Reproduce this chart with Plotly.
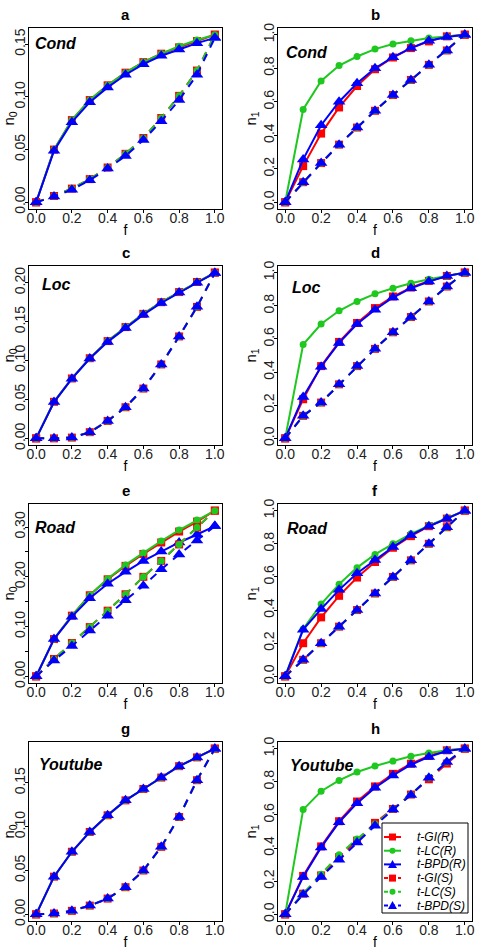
import plotly.graph_objects as go

# ---------------- data ----------------
F = [0.0, 0.1, 0.2, 0.3, 0.4, 0.5, 0.6, 0.7, 0.8, 0.9, 1.0]
SERIES_NAMES = ["t-GI(R)", "t-LC(R)", "t-BPD(R)", "t-GI(S)", "t-LC(S)", "t-BPD(S)"]
PANEL_LETTERS = ["a", "b", "c", "d", "e", "f", "g", "h"]
DATASETS = ["Cond", "Cond", "Loc", "Loc", "Road", "Road", "Youtube", "Youtube"]
Y_TITLES = ["n<sub>0</sub>", "n<sub>1</sub>"] * 4
X_TITLE = "f"

# a: Cond, n0
a_gi_r = [0, 0.050, 0.078, 0.097, 0.111, 0.123, 0.133, 0.141, 0.147, 0.153, 0.159]
a_lc_r = [0, 0.050, 0.078, 0.097, 0.111, 0.123, 0.133, 0.141, 0.148, 0.154, 0.159]
a_bpd_r = [0, 0.049, 0.076, 0.095, 0.109, 0.121, 0.131, 0.139, 0.145, 0.151, 0.156]
a_gi_s = [0, 0.006, 0.013, 0.022, 0.033, 0.046, 0.061, 0.080, 0.101, 0.125, 0.159]
a_lc_s = [0, 0.006, 0.013, 0.022, 0.033, 0.046, 0.061, 0.080, 0.101, 0.125, 0.159]
a_bpd_s = [0, 0.0055, 0.012, 0.021, 0.032, 0.044, 0.059, 0.077, 0.097, 0.121, 0.156]

# b: Cond, n1
b_gi_r = [0, 0.216, 0.410, 0.566, 0.694, 0.794, 0.864, 0.920, 0.960, 0.990, 1.0]
b_lc_r = [0, 0.554, 0.724, 0.816, 0.870, 0.914, 0.944, 0.964, 0.980, 0.990, 1.0]
b_bpd_r = [0, 0.256, 0.460, 0.600, 0.710, 0.800, 0.866, 0.920, 0.964, 0.986, 1.0]
b_gi_s = [0, 0.120, 0.234, 0.344, 0.446, 0.546, 0.640, 0.730, 0.820, 0.906, 1.0]
b_lc_s = [0, 0.120, 0.234, 0.344, 0.446, 0.546, 0.640, 0.730, 0.820, 0.906, 1.0]
b_bpd_s = [0, 0.120, 0.234, 0.344, 0.446, 0.546, 0.640, 0.730, 0.820, 0.906, 1.0]

# c: Loc, n0
c_gi_r = [0, 0.047, 0.077, 0.103, 0.125, 0.143, 0.160, 0.175, 0.188, 0.201, 0.213]
c_lc_r = [0, 0.047, 0.077, 0.103, 0.125, 0.143, 0.160, 0.175, 0.188, 0.201, 0.213]
c_bpd_r = [0, 0.0466, 0.0767, 0.1026, 0.124, 0.142, 0.159, 0.174, 0.1875, 0.200, 0.2125]
c_gi_s = [0, 0.000, 0.001, 0.008, 0.0224, 0.040, 0.064, 0.095, 0.131, 0.169, 0.213]
c_lc_s = [0, 0.000, 0.001, 0.008, 0.0224, 0.040, 0.064, 0.095, 0.131, 0.169, 0.213]
c_bpd_s = [0, 0.000, 0.001, 0.0078, 0.0224, 0.040, 0.064, 0.095, 0.131, 0.169, 0.2125]

# d: Loc, n1
d_gi_r = [0, 0.236, 0.436, 0.582, 0.696, 0.786, 0.856, 0.910, 0.950, 0.980, 1.0]
d_lc_r = [0, 0.566, 0.690, 0.770, 0.826, 0.872, 0.906, 0.936, 0.960, 0.980, 1.0]
d_bpd_r = [0, 0.250, 0.432, 0.576, 0.690, 0.776, 0.850, 0.906, 0.946, 0.980, 1.0]
d_gi_s = [0, 0.136, 0.216, 0.326, 0.436, 0.540, 0.640, 0.732, 0.826, 0.916, 1.0]
d_lc_s = [0, 0.136, 0.216, 0.326, 0.436, 0.540, 0.640, 0.732, 0.826, 0.916, 1.0]
d_bpd_s = [0, 0.136, 0.216, 0.326, 0.436, 0.540, 0.640, 0.732, 0.826, 0.916, 1.0]

# e: Road, n0
e_gi_r = [0, 0.075, 0.122, 0.163, 0.195, 0.222, 0.246, 0.269, 0.291, 0.311, 0.333]
e_lc_r = [0, 0.075, 0.122, 0.163, 0.196, 0.224, 0.248, 0.272, 0.294, 0.314, 0.333]
e_bpd_r = [0, 0.075, 0.120, 0.157, 0.186, 0.210, 0.232, 0.251, 0.269, 0.285, 0.302]
e_gi_s = [0, 0.035, 0.067, 0.099, 0.132, 0.165, 0.200, 0.232, 0.265, 0.299, 0.333]
e_lc_s = [0, 0.035, 0.067, 0.099, 0.132, 0.165, 0.200, 0.232, 0.265, 0.299, 0.333]
e_bpd_s = [0, 0.032, 0.061, 0.092, 0.122, 0.153, 0.182, 0.215, 0.245, 0.273, 0.302]

# f: Road, n1
f_gi_r = [0, 0.200, 0.356, 0.486, 0.596, 0.690, 0.776, 0.846, 0.906, 0.952, 1.0]
f_lc_r = [0, 0.286, 0.436, 0.556, 0.656, 0.736, 0.800, 0.860, 0.910, 0.956, 1.0]
f_bpd_r = [0, 0.282, 0.406, 0.522, 0.622, 0.702, 0.780, 0.852, 0.906, 0.952, 1.0]
f_gi_s = [0, 0.100, 0.200, 0.300, 0.400, 0.500, 0.600, 0.700, 0.800, 0.900, 1.0]
f_lc_s = [0, 0.100, 0.200, 0.300, 0.400, 0.500, 0.600, 0.700, 0.800, 0.900, 1.0]
f_bpd_s = [0, 0.100, 0.200, 0.300, 0.400, 0.500, 0.600, 0.700, 0.800, 0.900, 1.0]

# g: Youtube, n0
g_gi_r = [0, 0.043, 0.0714, 0.094, 0.113, 0.130, 0.143, 0.156, 0.169, 0.179, 0.189]
g_lc_r = [0, 0.043, 0.0714, 0.094, 0.113, 0.130, 0.143, 0.156, 0.169, 0.179, 0.189]
g_bpd_r = [0, 0.043, 0.0714, 0.094, 0.113, 0.130, 0.143, 0.156, 0.169, 0.179, 0.189]
g_gi_s = [0, 0.001, 0.004, 0.010, 0.018, 0.031, 0.050, 0.077, 0.111, 0.153, 0.189]
g_lc_s = [0, 0.001, 0.004, 0.010, 0.018, 0.031, 0.050, 0.077, 0.111, 0.153, 0.189]
g_bpd_s = [0, 0.001, 0.004, 0.010, 0.018, 0.031, 0.050, 0.077, 0.111, 0.153, 0.189]

# h: Youtube, n1
h_gi_r = [0, 0.232, 0.410, 0.562, 0.681, 0.772, 0.848, 0.909, 0.956, 0.990, 1.0]
h_lc_r = [0, 0.632, 0.743, 0.808, 0.859, 0.895, 0.925, 0.954, 0.974, 0.990, 1.0]
h_bpd_r = [0, 0.226, 0.404, 0.556, 0.671, 0.764, 0.838, 0.903, 0.950, 0.986, 1.0]
h_gi_s = [0, 0.125, 0.235, 0.345, 0.445, 0.552, 0.636, 0.723, 0.815, 0.910, 1.0]
h_lc_s = [0, 0.125, 0.242, 0.360, 0.455, 0.545, 0.636, 0.723, 0.824, 0.919, 1.0]
h_bpd_s = [0, 0.120, 0.226, 0.330, 0.434, 0.535, 0.632, 0.720, 0.824, 0.919, 1.0]

PANELS = [
    [a_gi_r, a_lc_r, a_bpd_r, a_gi_s, a_lc_s, a_bpd_s],
    [b_gi_r, b_lc_r, b_bpd_r, b_gi_s, b_lc_s, b_bpd_s],
    [c_gi_r, c_lc_r, c_bpd_r, c_gi_s, c_lc_s, c_bpd_s],
    [d_gi_r, d_lc_r, d_bpd_r, d_gi_s, d_lc_s, d_bpd_s],
    [e_gi_r, e_lc_r, e_bpd_r, e_gi_s, e_lc_s, e_bpd_s],
    [f_gi_r, f_lc_r, f_bpd_r, f_gi_s, f_lc_s, f_bpd_s],
    [g_gi_r, g_lc_r, g_bpd_r, g_gi_s, g_lc_s, g_bpd_s],
    [h_gi_r, h_lc_r, h_bpd_r, h_gi_s, h_lc_s, h_bpd_s],
]

X_TICKS = [0.0, 0.2, 0.4, 0.6, 0.8, 1.0]
X_TICK_LABELS = ["0.0", "0.2", "0.4", "0.6", "0.8", "1.0"]
N1_TICKS = [0.0, 0.2, 0.4, 0.6, 0.8, 1.0]
N1_TICK_LABELS = ["0.0", "0.2", "0.4", "0.6", "0.8", "1.0"]
A_TICKS = [0.00, 0.05, 0.10, 0.15]
A_TICK_LABELS = ["0.00", "0.05", "0.10", "0.15"]
C_TICKS = [0.00, 0.05, 0.10, 0.15, 0.20]
C_TICK_LABELS = ["0.00", "0.05", "0.10", "0.15", "0.20"]
E_TICKS = [0.00, 0.10, 0.20, 0.30]
E_TICK_LABELS = ["0.00", "0.10", "0.20", "0.30"]
E_MINOR_TICKS = [0.05, 0.15, 0.25]
G_TICKS = [0.00, 0.05, 0.10, 0.15]
G_TICK_LABELS = ["0.00", "0.05", "0.10", "0.15"]
Y_TICKS = [(A_TICKS, A_TICK_LABELS, None), (N1_TICKS, N1_TICK_LABELS, None),
           (C_TICKS, C_TICK_LABELS, None), (N1_TICKS, N1_TICK_LABELS, None),
           (E_TICKS, E_TICK_LABELS, E_MINOR_TICKS), (N1_TICKS, N1_TICK_LABELS, None),
           (G_TICKS, G_TICK_LABELS, None), (N1_TICKS, N1_TICK_LABELS, None)]

# ---------------- style ----------------
W, H = 500, 950
FONT = "Liberation Sans, Arial, Helvetica, sans-serif"
RED, GREEN, BLUE = "#FF0000", "#1EC81E", "#0000FF"
COLORS = [RED, GREEN, BLUE, RED, GREEN, BLUE]
SYMBOLS = ["square", "circle", "triangle-up"] * 2
SIZES = [8, 7, 11] * 2
DASHES = ["solid"] * 3 + ["8px,7px"] * 3

COL_X = [(29, 222), (278, 472)]
ROW_Y = [(28, 209), (266, 445), (504, 683), (742, 921)]
# dataset label placement (px offset from box left, px from box top to text centre)
LABEL_OFF = [(4, 16), (6, 24), (11, 18), (12, 22), (4, 23), (7, 24), (8, 22), (10, 23)]


def px(x):
    return x / W


def py(y):
    return 1 - y / H


fig = go.Figure()
annotations = []
shapes = []
layout_axes = {}

for i, series in enumerate(PANELS):
    r, c = divmod(i, 2)
    k = i + 1
    xa = "x" if k == 1 else f"x{k}"
    ya = "y" if k == 1 else f"y{k}"
    for j, vals in enumerate(series):
        fig.add_trace(go.Scatter(
            x=F, y=vals, xaxis=xa, yaxis=ya, name=SERIES_NAMES[j],
            mode="lines+markers", showlegend=False,
            line=dict(color=COLORS[j], width=2, dash=DASHES[j]),
            marker=dict(symbol=SYMBOLS[j], size=SIZES[j], color=COLORS[j],
                        line=dict(width=0)),
        ))
    allv = [v for s in series for v in s]
    lo, hi = min(allv), max(allv)
    pad = 0.04 * (hi - lo)
    x0, x1 = COL_X[c]
    y0, y1 = ROW_Y[r]
    common = dict(showline=True, mirror=True, linecolor="black", linewidth=1,
                  ticks="outside", ticklen=3, tickwidth=1, tickcolor="black",
                  showgrid=False, zeroline=False, automargin=False,
                  tickfont=dict(size=14, color="#222222", family=FONT))
    layout_axes["xaxis" if k == 1 else f"xaxis{k}"] = dict(
        domain=[px(x0), px(x1)], anchor=ya, range=[-0.04, 1.04],
        tickmode="array", tickvals=X_TICKS, ticktext=X_TICK_LABELS,
        ticklabelstandoff=-7,
        title=dict(text=X_TITLE, font=dict(size=14, color="black", family=FONT), standoff=0),
        **common)
    tv, tt, minor = Y_TICKS[i]
    yax = dict(
        domain=[py(y1), py(y0)], anchor=xa, range=[lo - pad, hi + pad],
        tickmode="array", tickvals=tv, ticktext=tt, tickangle=-90,
        ticklabelstandoff=-6,
        title=dict(text=Y_TITLES[i], font=dict(size=15, color="black", family=FONT), standoff=0),
        **common)
    if minor:
        yax["minor"] = dict(tickmode="array", tickvals=minor, ticks="outside",
                            ticklen=3, tickwidth=1, tickcolor="black", showgrid=False)
    layout_axes["yaxis" if k == 1 else f"yaxis{k}"] = yax
    # panel letter
    annotations.append(dict(
        text=f"<b>{PANEL_LETTERS[i]}</b>", xref="paper", yref="paper",
        x=px((x0 + x1) / 2), y=py(y0), xanchor="center", yanchor="bottom", yshift=3,
        showarrow=False, font=dict(size=15, color="black", family=FONT)))
    # dataset label
    lx, ly = LABEL_OFF[i]
    annotations.append(dict(
        text=f"<b><i>{DATASETS[i]}</i></b>", xref="paper", yref="paper",
        x=px(x0 + lx), y=py(y0 + ly), xanchor="left", yanchor="middle",
        showarrow=False, font=dict(size=16, color="black", family=FONT)))

# ---------------- legend (inside panel h) ----------------
LEG_BOX = (382, 823, 468, 913)
LEG_ROW0, LEG_STEP = 837, 13.7
LEG_LINE = (384, 401)
LEG_MARK_X = 392.5
LEG_TEXT_X = 415

shapes.append(dict(type="rect", xref="paper", yref="paper",
                   x0=px(LEG_BOX[0]), x1=px(LEG_BOX[2]), y0=py(LEG_BOX[3]), y1=py(LEG_BOX[1]),
                   line=dict(color="black", width=1), fillcolor="white", layer="above"))
for j, name in enumerate(SERIES_NAMES):
    yc = LEG_ROW0 + j * LEG_STEP
    col = COLORS[j]
    shapes.append(dict(type="line", xref="paper", yref="paper",
                       x0=px(LEG_LINE[0]), x1=px(LEG_LINE[1]), y0=py(yc), y1=py(yc),
                       line=dict(color=col, width=2, dash="solid" if j < 3 else "4px,3px"),
                       layer="above"))
    sym = SYMBOLS[j]
    if sym == "square":
        s = 3.5
        shapes.append(dict(type="rect", xref="paper", yref="paper",
                           x0=px(LEG_MARK_X - s), x1=px(LEG_MARK_X + s),
                           y0=py(yc + s), y1=py(yc - s),
                           line=dict(width=0), fillcolor=col, layer="above"))
    elif sym == "circle":
        s = 3
        shapes.append(dict(type="circle", xref="paper", yref="paper",
                           x0=px(LEG_MARK_X - s), x1=px(LEG_MARK_X + s),
                           y0=py(yc + s), y1=py(yc - s),
                           line=dict(width=0), fillcolor=col, layer="above"))
    else:
        s = 4.5
        path = (f"M {px(LEG_MARK_X - s)},{py(yc + s * 0.8)} "
                f"L {px(LEG_MARK_X + s)},{py(yc + s * 0.8)} "
                f"L {px(LEG_MARK_X)},{py(yc - s)} Z")
        shapes.append(dict(type="path", xref="paper", yref="paper", path=path,
                           line=dict(width=0), fillcolor=col, layer="above"))
    annotations.append(dict(
        text=f"<i>{name}</i>", xref="paper", yref="paper",
        x=px(LEG_TEXT_X), y=py(yc), xanchor="left", yanchor="middle",
        showarrow=False, font=dict(size=12, color="black", family=FONT)))

fig.update_layout(
    template="none",
    width=W, height=H, autosize=False,
    margin=dict(l=0, r=0, t=0, b=0, pad=0),
    paper_bgcolor="white", plot_bgcolor="white",
    showlegend=False,
    font=dict(family=FONT, color="black"),
    annotations=annotations, shapes=shapes,
    **layout_axes,
)

fig.write_html(
    "out.html",
    config={"displayModeBar": False},
    post_script="document.body.style.margin='0';document.body.style.overflow='hidden';",
)
